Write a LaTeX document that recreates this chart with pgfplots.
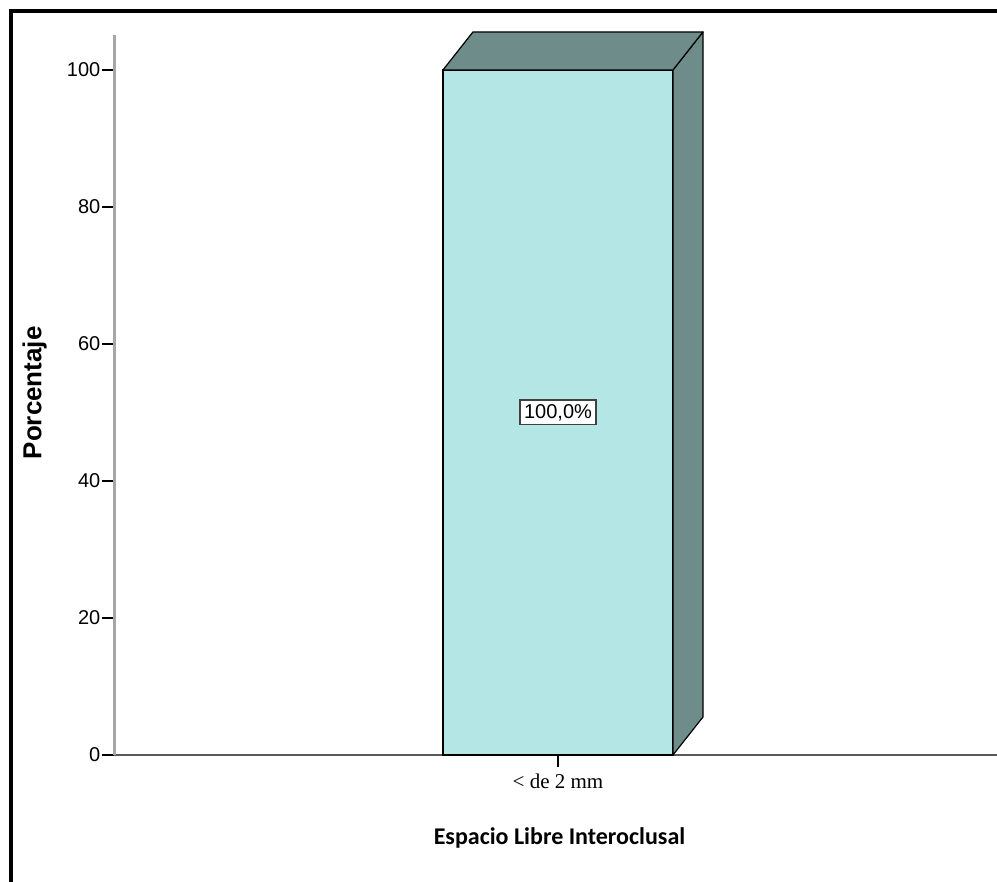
\documentclass[border=0pt]{standalone}
\usepackage{pgfplots}
\pgfplotsset{compat=1.18}
\usepackage{fontspec}
\setmainfont{Liberation Sans}
\newfontfamily\carlito{Carlito}
\newfontfamily\serifft{Liberation Serif}
\definecolor{frontc}{RGB}{180,230,230}
\definecolor{darkc}{RGB}{110,140,138}
\begin{document}
\begin{tikzpicture}[x=1pt,y=1pt]
\useasboundingbox (0,0) rectangle (997,882);
\draw[line width=3.5pt, line join=miter] (11,-5) -- (11,871) -- (1005,871);
\begin{axis}[
  at={(114pt,127pt)}, anchor=south west,
  scale only axis, width=883pt, height=720pt,
  xmin=0, xmax=883, ymin=0, ymax=105.1,
  clip=false,
  axis x line*=bottom, axis y line*=left,
  x axis line style={-, draw=black!65, line width=2.5pt},
  y axis line style={-, draw=black!35, line width=3pt},
  tick align=outside,
  major tick length=12pt,
  tick style={black, line width=1.6pt},
  ytick={0,20,40,60,80,100},
  xtick={444}, xticklabels={< de 2 mm},
  /pgf/number format/assume math mode=true,
  yticklabel style={font=\fontsize{20}{23}\selectfont, inner sep=1.5pt},
  xticklabel style={font=\serifft\fontsize{21}{24}\selectfont, inner sep=2pt, yshift=-5pt},
  xlabel={\carlito\bfseries Espacio Libre Interoclusal},
  ylabel={\bfseries Porcentaje},
  xlabel style={font=\fontsize{24}{28}\selectfont, at={(axis description cs:0.5045,0)}, yshift=-83pt, anchor=center},
  ylabel style={font=\fontsize{26}{30}\selectfont, at={(axis description cs:-0.0900,0.503)}, anchor=center},
]
\addplot[ybar, bar width=230, fill=frontc, draw=black, line width=1.2pt] coordinates {(444,100)};
\addplot[fill=darkc, draw=black, line width=1.2pt, line join=round] coordinates {(559,0) (589,5.55) (589,105.55) (559,100)} -- cycle;
\addplot[fill=darkc, draw=black, line width=1.2pt, line join=round] coordinates {(329,100) (359,105.55) (589,105.55) (559,100)} -- cycle;
\node[draw=black!75, fill=white, line width=1.5pt, inner sep=4pt, font=\fontsize{20}{23}\selectfont] at (axis cs:444,50) {100,0\%};
\end{axis}
\end{tikzpicture}
\end{document}
